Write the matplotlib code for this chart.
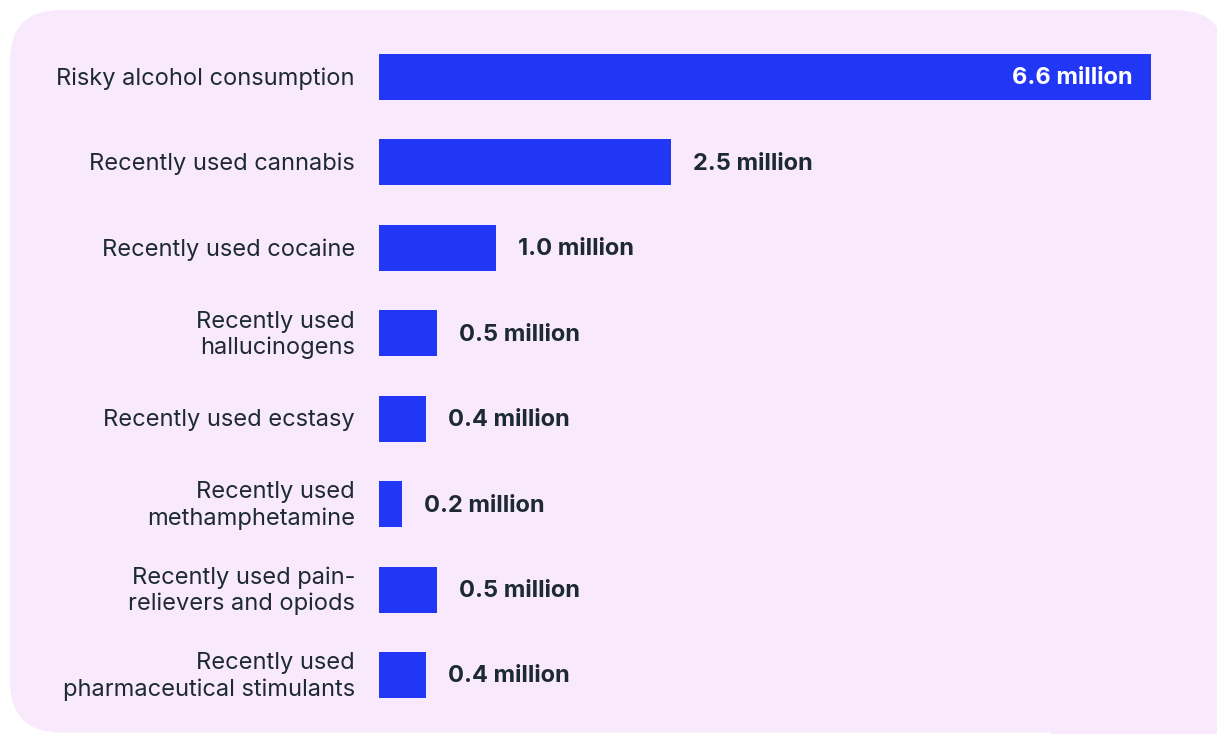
import matplotlib
matplotlib.use("Agg")
import matplotlib.pyplot as plt
from matplotlib.patches import FancyBboxPatch, Rectangle
from matplotlib.transforms import offset_copy

categories = [
    "Risky alcohol consumption",
    "Recently used cannabis",
    "Recently used cocaine",
    "Recently used\nhallucinogens",
    "Recently used ecstasy",
    "Recently used\nmethamphetamine",
    "Recently used pain-\nrelievers and opiods",
    "Recently used\npharmaceutical stimulants",
]
values = [6.6, 2.5, 1.0, 0.5, 0.4, 0.2, 0.5, 0.4]
value_labels = ["6.6 million", "2.5 million", "1.0 million", "0.5 million",
                "0.4 million", "0.2 million", "0.5 million", "0.4 million"]

W, H = 1217, 734
DPI = 100
fig = plt.figure(figsize=(W / DPI, H / DPI), dpi=DPI)
fig.patch.set_facecolor("white")

BG = "#f8e9fd"
BAR = "#2236f5"
TXT = "#1e2a33"
FONT = ["Inter", "DejaVu Sans"]
FS = 17

# rounded background panel
panel = FancyBboxPatch((10 / W, 1.5 / H), (1226 - 10) / W, (H - 11.5) / H,
                       boxstyle="round,pad=0,rounding_size=0.042",
                       transform=fig.transFigure, facecolor=BG, edgecolor="none",
                       mutation_aspect=W / H, zorder=-5)
fig.patches.append(panel)
# panel continues past the bottom-right of the frame
fig.patches.append(Rectangle((1050 / W, 0), 1, 150 / H, transform=fig.transFigure,
                             facecolor=BG, edgecolor="none", zorder=-5))

# axes in pixel layout
x0, x1 = 379, 1151
step = (675 - 77) / 7
ytop = 77 - step / 2
ybot = 675 + step / 2
ax = fig.add_axes([x0 / W, 1 - ybot / H, (x1 - x0) / W, (ybot - ytop) / H])
ax.set_zorder(2)
ax.set_facecolor("none")
ax.set_xlim(0, 6.6)
ax.set_ylim(len(categories) - 0.5, -0.5)
for s in ax.spines.values():
    s.set_visible(False)
ax.set_xticks([])
ax.set_yticks([])

ypos = list(range(len(categories)))
ax.barh(ypos, values, height=46 / step, color=BAR, zorder=2)

for y, cat in zip(ypos, categories):
    t = offset_copy(ax.transData, fig=fig, x=-24, y=-1.5, units="dots")
    ax.text(0, y, cat, transform=t, ha="right", va="center", fontsize=FS,
            color=TXT, family=FONT, linespacing=1.22, clip_on=False)

for y, v, lab in zip(ypos, values, value_labels):
    if v > 5:
        t = offset_copy(ax.transData, fig=fig, x=-18, y=-1.5, units="dots")
        ax.text(v, y, lab, transform=t, ha="right", va="center", fontsize=FS,
                color="white", fontweight="bold", family=FONT, zorder=3)
    else:
        t = offset_copy(ax.transData, fig=fig, x=22, y=-1.5, units="dots")
        ax.text(v, y, lab, transform=t, ha="left", va="center", fontsize=FS,
                color=TXT, fontweight="bold", family=FONT, zorder=3)

fig.savefig("out.png", dpi=DPI, facecolor="white")
